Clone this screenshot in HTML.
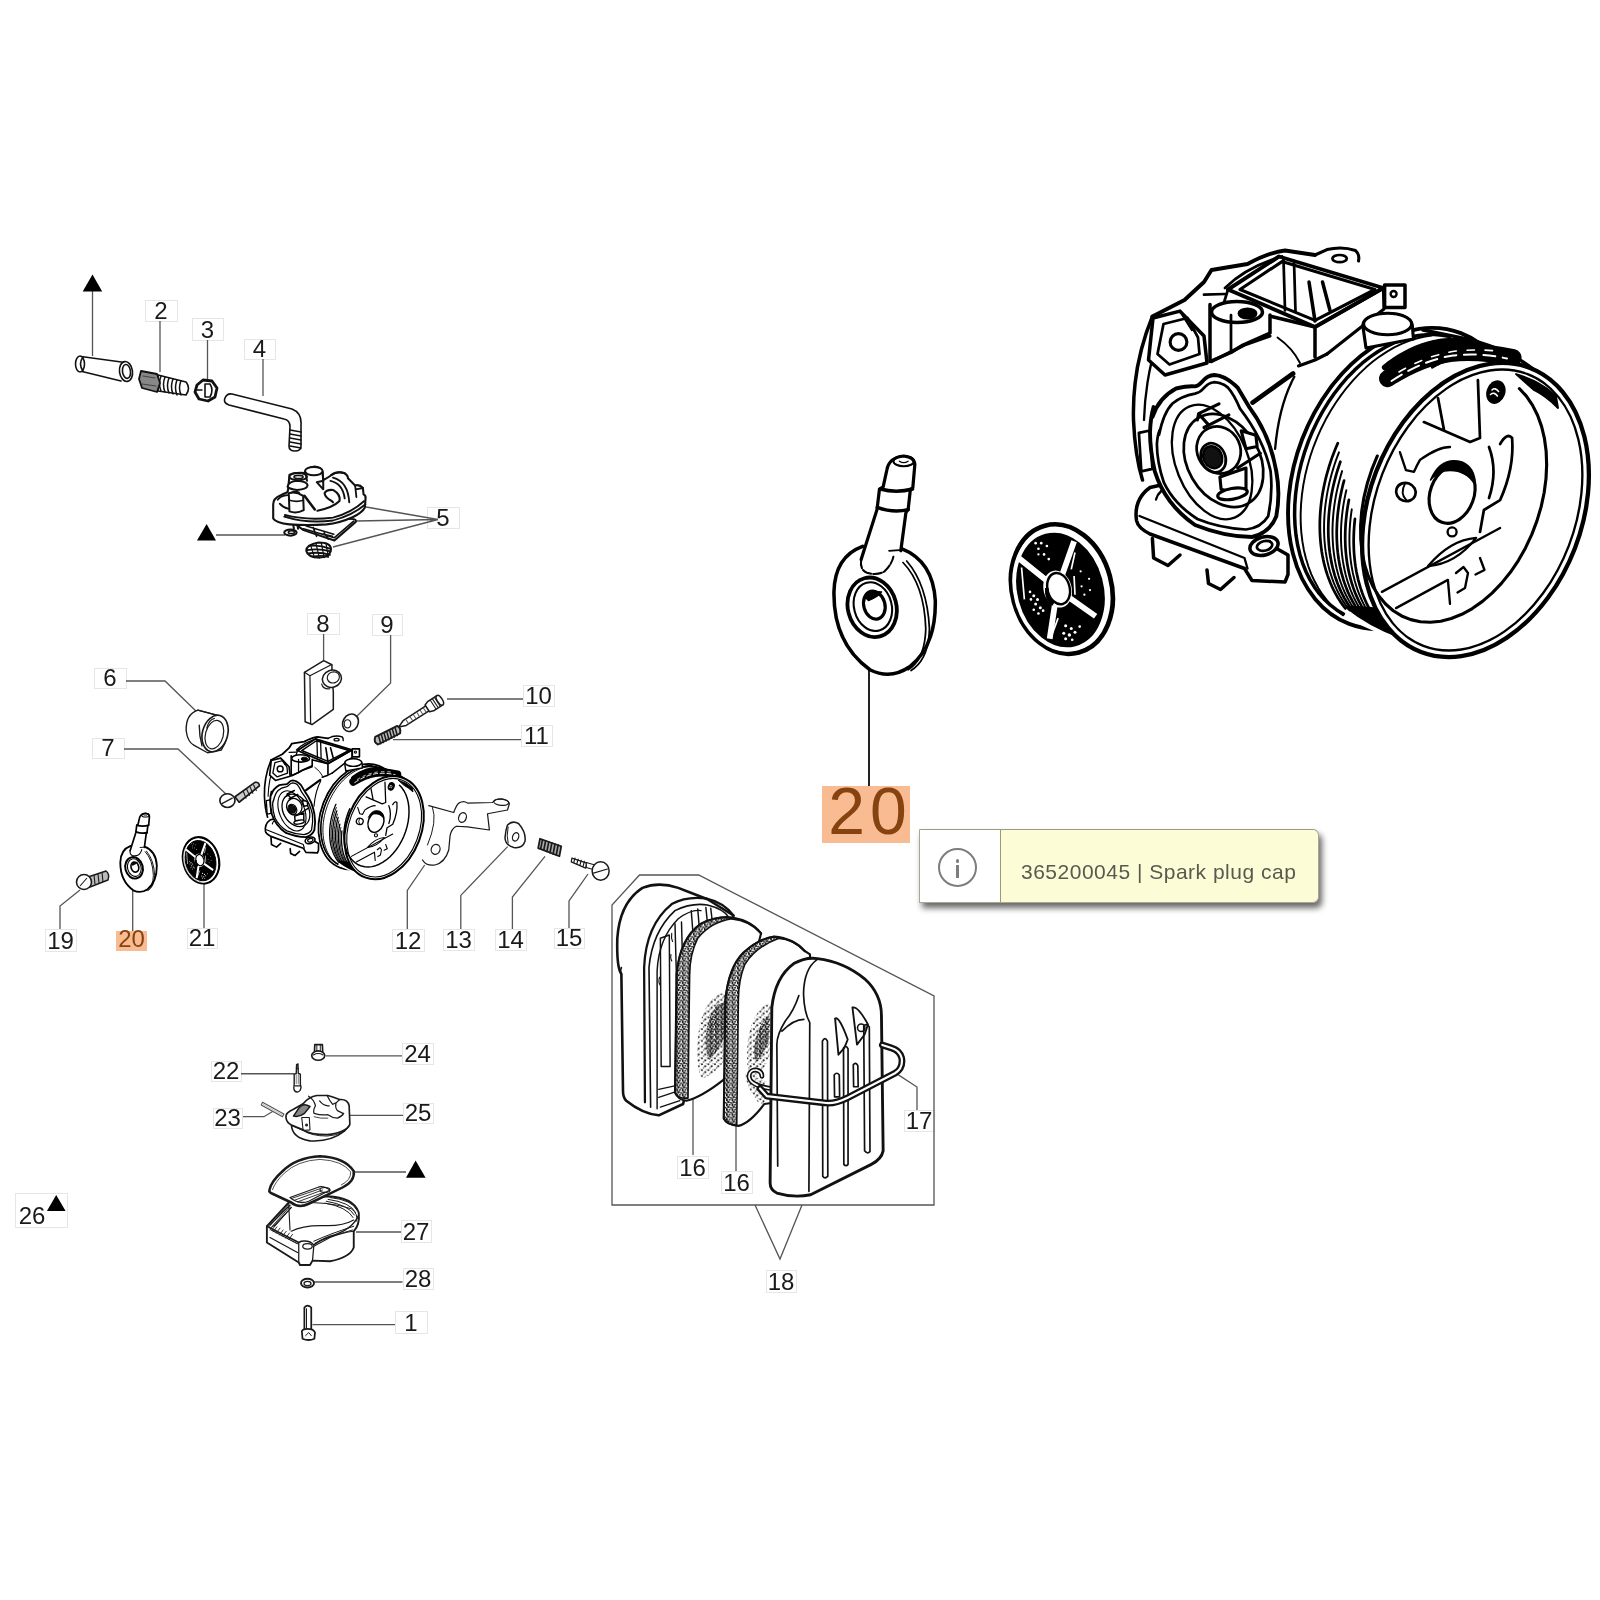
<!DOCTYPE html>
<html><head><meta charset="utf-8">
<style>
html,body{margin:0;padding:0;background:#fff;width:1600px;height:1600px;overflow:hidden}
svg{position:absolute;left:0;top:0;will-change:transform}
.lb{fill:none;stroke:#e6e6e6;stroke-width:1}
.lt{font-family:"Liberation Sans",sans-serif;font-size:24px;fill:#1a1a1a;text-anchor:middle}
.ld{fill:none;stroke:#555;stroke-width:1.3}
.k{fill:none;stroke:#111;stroke-linejoin:round;stroke-linecap:round}
.kf{fill:#fff;stroke:#111;stroke-linejoin:round;stroke-linecap:round}
#tip{will-change:transform;position:absolute;left:919px;top:829px;width:400px;height:74px;background:#fcfcd6;border:1px solid #a8a890;border-top:1.5px solid #9c9c84;border-radius:0 6px 6px 0;box-shadow:3px 5px 6px rgba(0,0,0,.6);box-sizing:border-box}
#tipl{position:absolute;left:0;top:0;width:80px;height:72px;background:#fff;border-right:1.5px solid #9a9a78}
#tipi{position:absolute;left:18px;top:18px;width:39px;height:39px;border:2.5px solid #7d7d7d;border-radius:50%;box-sizing:border-box}
#tipt{position:absolute;left:101px;top:30px;font-family:"Liberation Sans",sans-serif;font-size:21px;color:#595950;white-space:nowrap;letter-spacing:0.5px}
#big{will-change:transform;position:absolute;left:822px;top:786px;width:88px;height:57px;background:#f8bb92}
#bigt{position:absolute;left:4px;top:-13px;width:88px;text-align:center;font-family:"Liberation Sans",sans-serif;font-size:66px;color:#86430f;letter-spacing:5px}
</style></head><body>
<svg width="1600" height="1600" viewBox="0 0 1600 1600">
<rect x="116" y="931" width="31" height="20" fill="#f8bb92"/>
<rect x="145.5" y="300.5" width="32" height="21" class="lb"/>
<text x="161.0" y="319" class="lt">2</text>
<rect x="192.5" y="318.5" width="31" height="22" class="lb"/>
<text x="207.5" y="338" class="lt">3</text>
<rect x="244.5" y="339.5" width="31" height="20" class="lb"/>
<text x="259.5" y="357" class="lt">4</text>
<rect x="427.5" y="507.5" width="32" height="21" class="lb"/>
<text x="443.0" y="526" class="lt">5</text>
<rect x="94.5" y="668.5" width="32" height="20" class="lb"/>
<text x="110.0" y="686" class="lt">6</text>
<rect x="92.5" y="738.5" width="32" height="20" class="lb"/>
<text x="108.0" y="756" class="lt">7</text>
<rect x="307.5" y="613.5" width="32" height="21" class="lb"/>
<text x="323.0" y="632" class="lt">8</text>
<rect x="372.5" y="614.5" width="30" height="21" class="lb"/>
<text x="387.0" y="633" class="lt">9</text>
<rect x="523.5" y="685.5" width="31" height="21" class="lb"/>
<text x="538.5" y="704" class="lt">10</text>
<rect x="521.5" y="725.5" width="31" height="21" class="lb"/>
<text x="536.5" y="744" class="lt">11</text>
<rect x="392.5" y="929.5" width="32" height="22" class="lb"/>
<text x="408.0" y="949" class="lt">12</text>
<rect x="443.5" y="929.5" width="31" height="21" class="lb"/>
<text x="458.5" y="948" class="lt">13</text>
<rect x="495.5" y="929.5" width="31" height="21" class="lb"/>
<text x="510.5" y="948" class="lt">14</text>
<rect x="554.5" y="928.5" width="30" height="20" class="lb"/>
<text x="569.0" y="946" class="lt">15</text>
<rect x="45.5" y="929.5" width="31" height="22" class="lb"/>
<text x="60.5" y="949" class="lt">19</text>
<rect x="187.5" y="928.5" width="30" height="20" class="lb"/>
<text x="202.0" y="946" class="lt">21</text>
<rect x="677.5" y="1156.5" width="31" height="22" class="lb"/>
<text x="692.5" y="1176" class="lt">16</text>
<rect x="721.5" y="1171.5" width="31" height="22" class="lb"/>
<text x="736.5" y="1191" class="lt">16</text>
<rect x="904.5" y="1110.5" width="30" height="21" class="lb"/>
<text x="919.0" y="1129" class="lt">17</text>
<rect x="766.5" y="1270.5" width="30" height="22" class="lb"/>
<text x="781.0" y="1290" class="lt">18</text>
<rect x="402.5" y="1043.5" width="31" height="21" class="lb"/>
<text x="417.5" y="1062" class="lt">24</text>
<rect x="211.5" y="1061.5" width="30" height="20" class="lb"/>
<text x="226.0" y="1079" class="lt">22</text>
<rect x="213.5" y="1108.5" width="29" height="20" class="lb"/>
<text x="227.5" y="1126" class="lt">23</text>
<rect x="403.5" y="1103.5" width="30" height="20" class="lb"/>
<text x="418.0" y="1121" class="lt">25</text>
<rect x="401.5" y="1220.5" width="30" height="22" class="lb"/>
<text x="416.0" y="1240" class="lt">27</text>
<rect x="403.5" y="1268.5" width="30" height="21" class="lb"/>
<text x="418.0" y="1287" class="lt">28</text>
<rect x="395.5" y="1311.5" width="32" height="22" class="lb"/>
<text x="411.0" y="1331" class="lt">1</text>
<rect x="15.5" y="1193.5" width="52" height="34" class="lb"/>
<text x="32" y="1224" class="lt">26</text>
<text x="131.5" y="947" class="lt" style="fill:#86430f">20</text>
<!-- 00_leaders.svg -->
<g class="ld">
<path d="M92.5 291V356"/>
<path d="M160 321V372"/>
<path d="M207.5 340V381"/>
<path d="M263 359V396"/>
<path d="M216 535H285"/>
<path d="M438 519.5L366 507M438 519.5L356 521M438 519.5L333 547"/>
<path d="M126 681H165L199 714"/>
<path d="M124 749H178L227 795"/>
<path d="M323.6 634V660"/>
<path d="M390.6 635V683L356 717"/>
<path d="M447 699H523"/>
<path d="M393 739.6H521"/>
<path d="M60 929V906L80 890"/>
<path d="M132.7 931V890"/>
<path d="M204 928V882"/>
<path d="M407.3 929V890.5L424.7 865"/>
<path d="M460.8 929V895.4L507.6 846.6"/>
<path d="M512.4 929V897L545 856.4"/>
<path d="M569 928V901L588 874"/>
<path d="M325.8 1055.8H402"/>
<path d="M241 1073.75H294"/>
<path d="M243 1116.7H264L273.4 1111"/>
<path d="M350 1115.3H403"/>
<path d="M354.7 1172H406"/>
<path d="M356 1232H401"/>
<path d="M312.5 1282H402.5"/>
<path d="M312.5 1324.7H395"/>
<path d="M612 1205V905L639.5 875H698.7L934 996V1205Z"/>
<path d="M755 1205L780 1259L802 1205"/>
<path d="M898 1074.6L917 1087V1110"/>
<path d="M693 1099V1155"/>
<path d="M736 1124V1171"/>
</g>
<path d="M869 669.5V786" fill="none" stroke="#222" stroke-width="2"/>
<g fill="#000">
<path d="M92.5 274.6L82.7 291.5H102.2Z"/>
<path d="M206.6 524L197 540.5H216Z"/>
<path d="M415.6 1160.6L406 1177.8H425.6Z"/>
<path d="M56.2 1195L46.9 1211H65.6Z"/>
</g>
<!-- 01_top.svg -->
<g class="k" stroke-width="1.6" stroke="#222">
<!-- cylinder -->
<path d="M81 356.5L125 362.5M82 371.5L121 381" />
<ellipse cx="80" cy="364" rx="4.5" ry="8" fill="#fff"/>
<path d="M83 357Q78 364 83 371"/>
<ellipse cx="126" cy="371.5" rx="6.5" ry="10" fill="#fff" transform="rotate(-8 126 371.5)"/>
<ellipse cx="126.5" cy="371.5" rx="4" ry="7" transform="rotate(-8 126 371.5)"/>
<!-- screw 2 -->
<path d="M158 375L186 382Q191 388 186 395L158 391Z" fill="#fff"/>
<path d="M161 376Q158 384 161 391M165 377Q162 385 165 392M169 378Q166 386 169 393M173 379Q170 387 173 394M177 380Q174 388 177 395M181 381Q178 388 181 395" stroke-width="1.5"/>
<path d="M141 371L157 374L160 383L157 392L142 388L139 379Z" fill="#888" stroke-width="1.8"/>
<path d="M143 376L155 378M142 384L156 386" stroke="#444" stroke-width="1.2"/>
<!-- nut 3 -->
<path d="M197 385L203 380L212 381L217 388L215 397L208 401L199 399L195 392Z" stroke-width="2.8" fill="#fff"/>
<path d="M205 384L210 384Q214 390 210 397L205 397Z" stroke-width="1.6"/>
<path d="M197 390H202" stroke-width="1.4"/>
<!-- tube 4 -->
<path d="M232 394L292 409Q302 413 301 425L301 446Q301 451 295 451Q289 451 289 446L290 427Q290 420 284 419L229 405Q223 403 225 398Q227 393 232 394Z" fill="#fff"/>
<path d="M290 430L301 432M290 434L301 436M290 438L301 440M290 442L301 444M290 446L301 448" stroke-width="1.5"/>
</g>
<!-- 02_pump.svg -->
<g transform="translate(265 460) scale(0.06875)">
<g class="k" stroke="#1a1a1a">
<path vector-effect="non-scaling-stroke" d="M780 1200Q600 1230 600 1320Q620 1420 800 1420Q950 1410 960 1300Q960 1200 780 1200Z" fill="#fff" style="stroke-width:2"/>
<path vector-effect="non-scaling-stroke" d="M640 1250Q800 1230 940 1290M615 1310Q780 1280 955 1330M630 1360Q790 1330 945 1380M690 1405Q830 1380 920 1410" style="stroke-width:1.8"/>
<path vector-effect="non-scaling-stroke" d="M660 1230L720 1420M740 1210L790 1420M820 1210L860 1420M890 1230L920 1400" style="stroke-width:1.2"/>
<path vector-effect="non-scaling-stroke" d="M330 850L560 1020L1010 1170L1320 900Q1330 870 1290 860L900 840Z" fill="#fff" style="stroke-width:2"/>
<path vector-effect="non-scaling-stroke" d="M560 1000L1010 1130L1290 890M700 980L750 1110M860 1060L920 1150M720 1050L980 1110M600 960L1000 1080" style="stroke-width:1.6"/>
<ellipse vector-effect="non-scaling-stroke" cx="370" cy="1055" rx="90" ry="45" fill="#fff" style="stroke-width:2"/>
<ellipse vector-effect="non-scaling-stroke" cx="385" cy="1050" rx="45" ry="20" style="stroke-width:1.6"/>
<path vector-effect="non-scaling-stroke" d="M410 930L420 1000M470 920L480 1000" style="stroke-width:2"/>
</g>
</g>
<g transform="translate(268 462) scale(0.065)">
<g class="k" stroke="#1a1a1a">
<path vector-effect="non-scaling-stroke" d="M80 650Q85 560 180 520Q230 490 300 465L310 420L330 200Q400 160 560 170Q600 80 720 70Q830 80 840 160L850 280Q920 240 980 200Q1060 140 1170 170Q1230 200 1230 250L1340 360Q1410 340 1460 400L1470 500Q1510 510 1500 570L1490 700Q1450 780 1300 850Q1100 940 900 960Q600 980 330 960Q120 940 80 870Z" fill="#fff" style="stroke-width:2.1"/>
<path vector-effect="non-scaling-stroke" d="M250 840Q600 950 1000 900Q1300 820 1500 650M260 815Q600 905 1000 855Q1280 785 1480 600" style="stroke-width:1.8"/>
<path vector-effect="non-scaling-stroke" d="M150 580Q200 520 300 510M180 640Q230 700 320 720" style="stroke-width:1.8"/>
<ellipse vector-effect="non-scaling-stroke" cx="465" cy="225" rx="135" ry="55" fill="#fff" style="stroke-width:2"/>
<ellipse vector-effect="non-scaling-stroke" cx="470" cy="230" rx="70" ry="25" style="stroke-width:1.6"/>
<path vector-effect="non-scaling-stroke" d="M300 380Q320 300 450 290Q600 300 610 360Q600 420 450 430Q330 420 300 380Z" fill="#fff" style="stroke-width:2"/>
<path vector-effect="non-scaling-stroke" d="M320 480L330 760Q440 800 550 740L540 520Q430 450 320 480Z" fill="#fff" style="stroke-width:2"/>
<path vector-effect="non-scaling-stroke" d="M330 590Q440 620 545 590M360 470Q420 440 480 470" style="stroke-width:1.6"/>
<path vector-effect="non-scaling-stroke" d="M575 160L600 290M840 160L850 280" style="stroke-width:2"/>
<ellipse vector-effect="non-scaling-stroke" cx="705" cy="140" rx="135" ry="65" fill="#fff" style="stroke-width:2"/>
<path vector-effect="non-scaling-stroke" d="M750 310L850 290L850 420Z" style="stroke-width:2"/>
<path vector-effect="non-scaling-stroke" d="M560 520L720 730" style="stroke-width:2.6"/>
<path vector-effect="non-scaling-stroke" d="M760 750Q1000 700 1100 600Q1120 500 1000 430Q900 420 870 480Q880 550 980 600L1000 620" style="stroke-width:2.1"/>
<path vector-effect="non-scaling-stroke" d="M1000 240Q1230 300 1250 620M960 290Q1150 330 1180 560" style="stroke-width:1.9"/>
<path vector-effect="non-scaling-stroke" d="M1340 360L1360 540M1460 400L1350 420M970 200Q1050 130 1180 170" style="stroke-width:1.8"/>
</g>
</g>
<!-- 05_carb.svg -->
<defs>
<g id="carb" fill="none" stroke="#000" stroke-linejoin="round" stroke-linecap="round" style="stroke-width:calc(9px * var(--k,1))">
<ellipse cx="950" cy="795" rx="367" ry="519" transform="rotate(21 950 795)" fill="#fff" style="stroke-width:calc(10px * var(--k,1))"/>
<path d="M1378.1 431.4 L1394.9 439.6 L1411.0 449.0 L1426.6 459.6 L1441.5 471.5 L1455.7 484.6 L1469.1 498.7 L1481.7 514.0 L1493.6 530.3 L1504.6 547.7 L1514.7 566.0 L1523.9 585.2 L1532.2 605.3 L1539.6 626.2 L1545.9 647.9 L1551.3 670.2 L1555.7 693.2 L1559.0 716.7 L1561.4 740.8 L1562.7 765.3 L1562.9 790.1 L1562.2 815.3 L1560.4 840.6 L1557.5 866.2 L1553.7 891.8 L1548.8 917.5 L1542.9 943.1 L1536.1 968.6 L1528.3 993.9 L1519.5 1018.9 L1509.9 1043.7 L1499.3 1068.0 L1487.9 1091.9 L1475.7 1115.2 L1462.6 1137.9 L1448.8 1160.0 L1434.3 1181.4 L1419.1 1202.1 L1403.2 1221.8 L1386.8 1240.7 L1369.8 1258.7 L1352.3 1275.7 L1334.3 1291.7 L1315.9 1306.5 L1297.2 1320.3 L1278.1 1332.9 L1258.8 1344.4 L1239.3 1354.6 L1219.7 1363.5 L1200.0 1371.2 L1180.2 1377.6 L1160.4 1382.7 L1140.7 1386.5 L1121.1 1389.0 L1101.7 1390.1 L1082.5 1389.8 L1063.6 1388.2 L1045.1 1385.3 L1026.9 1381.0 L1009.1 1375.5 L991.9 1368.6 L756.9 1263.6 L740.1 1255.4 L724.0 1246.0 L708.4 1235.4 L693.5 1223.5 L679.3 1210.4 L665.9 1196.3 L653.3 1181.0 L641.4 1164.7 L630.4 1147.3 L620.3 1129.0 L611.1 1109.8 L602.8 1089.7 L595.4 1068.8 L589.1 1047.1 L583.7 1024.8 L579.3 1001.8 L576.0 978.3 L573.6 954.2 L572.3 929.7 L572.1 904.9 L572.8 879.7 L574.6 854.4 L577.5 828.8 L581.3 803.2 L586.2 777.5 L592.1 751.9 L598.9 726.4 L606.7 701.1 L615.5 676.1 L625.1 651.3 L635.7 627.0 L647.1 603.1 L659.3 579.8 L672.4 557.1 L686.2 535.0 L700.7 513.6 L715.9 492.9 L731.8 473.2 L748.2 454.3 L765.2 436.3 L782.7 419.3 L800.7 403.3 L819.1 388.5 L837.8 374.7 L856.9 362.1 L876.2 350.6 L895.7 340.4 L915.3 331.5 L935.0 323.8 L954.8 317.4 L974.6 312.3 L994.3 308.5 L1013.9 306.0 L1033.3 304.9 L1052.5 305.2 L1071.4 306.8 L1089.9 309.7 L1108.1 314.0 L1125.9 319.5 L1143.1 326.4Z" fill="#fff" stroke="none"/>
<path d="M744.5 1246.4 L722.4 1233.1 L701.6 1217.3 L682.2 1199.2 L664.2 1178.9 L647.8 1156.5 L633.1 1132.0 L620.1 1105.8 L608.9 1077.8 L599.6 1048.2 L592.2 1017.3 L586.8 985.2 L583.4 952.0 L582.0 917.9 L582.6 883.2 L585.3 847.9 L589.9 812.4 L596.5 776.8 L605.1 741.3 L615.6 706.1 L627.9 671.4 L642.0 637.3 L657.8 604.1 L675.2 572.0 L694.1 541.1 L714.4 511.6 L736.0 483.7 L758.7 457.4 L782.6 433.0 L807.3 410.7 L832.9 390.4 L859.0 372.3 L885.7 356.6 L912.8 343.3 L940.0 332.5 L967.3 324.2 L994.5 318.5 L1021.4 315.4 L1048.0 315.0 L1074.0 317.2 L1099.4 322.0" style="stroke-width:calc(9px * var(--k,1))" />
<path d="M743.5 1251.0 L724.7 1236.5 L707.1 1220.2 L690.5 1202.0 L675.3 1182.2 L661.3 1160.8 L648.7 1137.8 L637.5 1113.5 L627.8 1087.8 L619.6 1060.9 L612.9 1033.0 L607.8 1004.0 L604.3 974.3 L602.4 943.8 L602.1 912.7 L603.5 881.2 L606.4 849.3 L611.0 817.3 L617.1 785.2 L624.8 753.3 L634.0 721.5 L644.7 690.1 L656.8 659.3 L670.3 629.0 L685.2 599.5 L701.3 570.9 L718.6 543.3 L737.0 516.9 L756.4 491.7 L776.8 467.8 L798.1 445.4 L820.2 424.5 L842.9 405.3 L866.2 387.8 L890.1 372.1 L914.3 358.2 L938.7 346.3 L963.4 336.3 L988.1 328.4 L1012.8 322.5 L1037.4 318.7" style="stroke-width:calc(5px * var(--k,1))" />
<path d="M1010 300 L1144 327 Q1290 360 1379 432" style="stroke-width:calc(9px * var(--k,1))"/>
<path d="M751.4 1228.2 L744.0 1218.7 L736.9 1208.9 L730.2 1198.7 L723.7 1188.1 L717.6 1177.2 L711.7 1165.9 L706.2 1154.4 L701.1 1142.5 L696.3 1130.3 L691.8 1117.8 L687.6 1105.1 L683.9 1092.0 L680.4 1078.8 L677.4 1065.3 L674.7 1051.5 L672.3 1037.6 L670.4 1023.4 L668.8 1009.1 L667.5 994.6 L666.7 979.9 L666.2 965.1 L666.0 950.2 L666.3 935.2 L666.9 920.0 L667.9 904.8 L669.3 889.6 L671.0 874.2 L673.2 858.9 L675.6 843.5 L678.5 828.1 L681.7 812.7 L685.2 797.3 L689.1 782.0 L693.4 766.7 L698.0 751.5 L703.0 736.4 L708.2 721.4 L713.9 706.5 L719.8 691.7 L726.1 677.1" style="stroke-width:calc(7px * var(--k,1))" />
<path d="M765.5 1234.5 L758.4 1225.4 L751.6 1216.0 L745.1 1206.3 L738.9 1196.2 L732.9 1185.8 L727.3 1175.1 L721.9 1164.1 L716.9 1152.8 L712.1 1141.2 L707.7 1129.3 L703.6 1117.2 L699.8 1104.9 L696.4 1092.3 L693.2 1079.5 L690.4 1066.4 L688.0 1053.2 L685.8 1039.8 L684.0 1026.2 L682.6 1012.4 L681.4 998.5 L680.7 984.4 L680.2 970.2 L680.2 955.9 L680.4 941.5 L681.0 927.0 L681.9 912.4 L683.2 897.8 L684.8 883.1 L686.8 868.4 L689.1 853.6 L691.7 838.9 L694.7 824.1 L697.9 809.4 L701.6 794.7 L705.5 780.0 L709.8 765.4 L714.3 750.9 L719.2 736.4 L724.4 722.1 L729.9 707.8" style="stroke-width:calc(5px * var(--k,1))" />
<path d="M779.6 1240.8 L772.8 1232.1 L766.3 1223.2 L760.0 1213.9 L754.0 1204.3 L748.3 1194.4 L742.8 1184.2 L737.6 1173.8 L732.7 1163.0 L728.0 1152.1 L723.7 1140.8 L719.6 1129.4 L715.8 1117.7 L712.4 1105.7 L709.2 1093.6 L706.3 1081.3 L703.7 1068.7 L701.5 1056.0 L699.5 1043.1 L697.8 1030.1 L696.5 1016.9 L695.5 1003.5 L694.7 990.1 L694.3 976.5 L694.2 962.8 L694.5 949.0 L695.0 935.2 L695.8 921.2 L697.0 907.3 L698.5 893.2 L700.3 879.1 L702.3 865.0 L704.7 850.9 L707.4 836.8 L710.4 822.7 L713.7 808.6 L717.3 794.6 L721.2 780.6 L725.4 766.6 L729.9 752.8 L734.6 739.0" style="stroke-width:calc(7px * var(--k,1))" />
<path d="M793.7 1247.1 L787.2 1238.8 L781.0 1230.3 L775.0 1221.5 L769.2 1212.3 L763.7 1203.0 L758.4 1193.3 L753.3 1183.4 L748.5 1173.3 L744.0 1162.9 L739.7 1152.3 L735.7 1141.4 L732.0 1130.4 L728.5 1119.1 L725.3 1107.6 L722.3 1096.0 L719.7 1084.2 L717.3 1072.1 L715.2 1060.0 L713.4 1047.6 L711.8 1035.2 L710.5 1022.6 L709.6 1009.8 L708.9 997.0 L708.5 984.0 L708.3 971.0 L708.5 957.8 L709.0 944.6 L709.7 931.4 L710.7 918.0 L712.0 904.6 L713.6 891.2 L715.5 877.8 L717.6 864.3 L720.0 850.8 L722.7 837.3 L725.7 823.9 L729.0 810.5 L732.5 797.1 L736.3 783.7 L740.3 770.4" style="stroke-width:calc(5px * var(--k,1))" />
<path d="M807.8 1253.4 L801.6 1245.5 L795.7 1237.4 L789.9 1229.0 L784.4 1220.4 L779.1 1211.5 L774.0 1202.4 L769.1 1193.0 L764.4 1183.5 L760.0 1173.7 L755.8 1163.7 L751.9 1153.4 L748.2 1143.0 L744.7 1132.4 L741.5 1121.6 L738.5 1110.6 L735.8 1099.5 L733.3 1088.2 L731.1 1076.7 L729.1 1065.1 L727.4 1053.4 L725.9 1041.5 L724.7 1029.5 L723.7 1017.4 L723.1 1005.1 L722.6 992.8 L722.4 980.4 L722.5 967.9 L722.9 955.3 L723.5 942.7 L724.3 930.0 L725.4 917.3 L726.8 904.5 L728.5 891.7 L730.3 878.9 L732.5 866.1 L734.9 853.3 L737.5 840.4 L740.4 827.6 L743.5 814.8 L746.9 802.1" style="stroke-width:calc(7px * var(--k,1))" />
<path d="M821.9 1259.7 L816.0 1252.2 L810.4 1244.5 L804.9 1236.6 L799.6 1228.4 L794.5 1220.1 L789.6 1211.5 L784.9 1202.6 L780.4 1193.6 L776.1 1184.4 L772.0 1175.0 L768.1 1165.4 L764.5 1155.6 L761.0 1145.6 L757.8 1135.5 L754.8 1125.2 L752.0 1114.7 L749.5 1104.1 L747.2 1093.3 L745.1 1082.4 L743.2 1071.4 L741.6 1060.2 L740.1 1049.0 L739.0 1037.6 L738.0 1026.1 L737.3 1014.5 L736.8 1002.8 L736.6 991.1 L736.6 979.2 L736.8 967.3 L737.2 955.3 L737.9 943.3 L738.8 931.2 L740.0 919.1 L741.4 907.0 L743.0 894.8 L744.8 882.7 L746.9 870.5 L749.2 858.3 L751.7 846.1 L754.5 833.9" style="stroke-width:calc(5px * var(--k,1))" />
<path d="M836.0 1266.0 L830.4 1258.9 L825.0 1251.7 L819.8 1244.2 L814.8 1236.5 L809.9 1228.6 L805.2 1220.5 L800.7 1212.2 L796.3 1203.7 L792.2 1195.1 L788.2 1186.3 L784.4 1177.3 L780.9 1168.1 L777.5 1158.8 L774.3 1149.3 L771.3 1139.6 L768.5 1129.8 L765.9 1119.9 L763.5 1109.8 L761.3 1099.6 L759.3 1089.3 L757.5 1078.9 L755.9 1068.3 L754.5 1057.7 L753.4 1046.9 L752.4 1036.0 L751.6 1025.1 L751.1 1014.0 L750.8 1002.9 L750.6 991.8 L750.7 980.5 L751.0 969.2 L751.5 957.8 L752.2 946.4 L753.2 935.0 L754.3 923.5 L755.6 912.0 L757.2 900.5 L758.9 889.0 L760.9 877.4 L763.1 865.9" style="stroke-width:calc(7px * var(--k,1))" />
<path d="M850.1 1272.3 L844.8 1265.6 L839.7 1258.8 L834.8 1251.7 L830.0 1244.5 L825.3 1237.1 L820.8 1229.5 L816.5 1221.8 L812.3 1213.8 L808.3 1205.7 L804.5 1197.5 L800.8 1189.1 L797.3 1180.5 L794.0 1171.8 L790.8 1163.0 L787.9 1154.0 L785.1 1144.8 L782.4 1135.6 L780.0 1126.2 L777.7 1116.7 L775.6 1107.1 L773.7 1097.3 L772.0 1087.5 L770.4 1077.6 L769.1 1067.5 L767.9 1057.4 L766.9 1047.2 L766.1 1036.9 L765.5 1026.5 L765.0 1016.0 L764.8 1005.5 L764.7 994.9 L764.9 984.3 L765.2 973.6 L765.7 962.9 L766.4 952.1 L767.3 941.3 L768.3 930.5 L769.6 919.6 L771.0 908.7 L772.6 897.8" style="stroke-width:calc(5px * var(--k,1))" />
<path d="M864.2 1278.6 L859.2 1272.3 L854.4 1265.9 L849.7 1259.3 L845.2 1252.5 L840.8 1245.6 L836.5 1238.5 L832.4 1231.3 L828.4 1223.9 L824.5 1216.3 L820.8 1208.7 L817.3 1200.8 L813.9 1192.9 L810.6 1184.8 L807.5 1176.6 L804.6 1168.2 L801.8 1159.7 L799.2 1151.1 L796.7 1142.4 L794.3 1133.6 L792.2 1124.7 L790.2 1115.7 L788.3 1106.5 L786.7 1097.3 L785.1 1088.0 L783.8 1078.6 L782.6 1069.1 L781.6 1059.5 L780.7 1049.8 L780.0 1040.1 L779.5 1030.3 L779.1 1020.5 L778.9 1010.6 L778.8 1000.6 L779.0 990.6 L779.3 980.5 L779.7 970.4 L780.4 960.3 L781.1 950.1 L782.1 940.0 L783.2 929.7" style="stroke-width:calc(7px * var(--k,1))" />
<path d="M760 1225 Q840 1290 960 1330 Q900 1270 840 1230 Z" fill="#000" style="stroke-width:calc(10px * var(--k,1))"/>
<path d="M883.4 424.8 L893.4 417.0 L903.6 409.5 L913.8 402.4 L924.2 395.6 L934.6 389.1 L945.0 383.0 L955.6 377.3 L966.2 371.9 L976.8 366.9 L987.4 362.3 L998.1 358.0 L1008.8 354.1 L1019.6 350.6 L1030.3 347.5 L1041.0 344.7 L1051.7 342.4 L1062.4 340.4 L1073.0 338.8 L1083.6 337.6 L1094.1 336.8 L1104.6 336.4 L1115.0 336.4 L1125.4 336.8 L1135.6 337.6 L1145.8 338.8 L1155.8 340.3 L1165.8 342.3 L1175.6 344.7 L1185.3 347.4 L1194.9 350.5 L1204.4 354.0 L1213.6 357.9 L1222.8 362.2 L1231.8 366.8 L1240.6 371.8 L1249.2 377.2 L1257.6 382.9 L1265.9 389.0 L1273.9 395.4 L1281.8 402.2" style="stroke-width:calc(16px * var(--k,1))" />
<path d="M914.6 423.6 L924.4 416.5 L934.4 409.6 L944.4 403.1 L954.5 396.9 L964.6 391.0 L974.9 385.4 L985.1 380.2 L995.4 375.4 L1005.8 370.9 L1016.1 366.7 L1026.5 362.9 L1036.9 359.4 L1047.3 356.4 L1057.6 353.6 L1068.0 351.3 L1078.4 349.3 L1088.7 347.6 L1099.0 346.4 L1109.2 345.5 L1119.4 344.9 L1129.5 344.8 L1139.6 345.0 L1149.5 345.6 L1159.4 346.5 L1169.2 347.8 L1178.9 349.5 L1188.5 351.6 L1198.0 354.0 L1207.4 356.8 L1216.6 360.0 L1225.7 363.5 L1234.7 367.3 L1243.5 371.5 L1252.2 376.1 L1260.7 381.0 L1269.0 386.3 L1277.2 391.9 L1285.2 397.8 L1293.0 404.0 L1300.6 410.6" style="stroke-width:calc(16px * var(--k,1))" />
<path d="M945.9 423.0 L955.6 416.4 L965.3 410.2 L975.1 404.2 L984.9 398.6 L994.8 393.3 L1004.7 388.2 L1014.7 383.6 L1024.7 379.2 L1034.7 375.2 L1044.8 371.5 L1054.9 368.1 L1064.9 365.1 L1075.0 362.4 L1085.0 360.0 L1095.0 358.0 L1105.0 356.4 L1115.0 355.1 L1124.9 354.1 L1134.8 353.5 L1144.6 353.2 L1154.4 353.3 L1164.1 353.7 L1173.7 354.4 L1183.2 355.6 L1192.7 357.0 L1202.0 358.8 L1211.3 361.0 L1220.4 363.4 L1229.4 366.3 L1238.3 369.4 L1247.1 372.9 L1255.8 376.8 L1264.3 380.9 L1272.6 385.4 L1280.8 390.2 L1288.9 395.4 L1296.8 400.8 L1304.5 406.6 L1312.0 412.6 L1319.4 419.0" style="stroke-width:calc(7px * var(--k,1))" />
<path d="M977.4 422.8 L986.8 416.9 L996.3 411.2 L1005.8 405.8 L1015.4 400.7 L1025.0 395.9 L1034.7 391.4 L1044.3 387.3 L1054.0 383.4 L1063.8 379.8 L1073.5 376.6 L1083.2 373.6 L1092.9 371.0 L1102.7 368.7 L1112.4 366.7 L1122.0 365.1 L1131.7 363.7 L1141.3 362.7 L1150.8 362.0 L1160.4 361.6 L1169.8 361.6 L1179.2 361.9 L1188.6 362.5 L1197.8 363.4 L1207.0 364.7 L1216.1 366.3 L1225.1 368.1 L1234.0 370.4 L1242.8 372.9 L1251.5 375.8 L1260.0 378.9 L1268.5 382.4 L1276.8 386.2 L1285.0 390.3 L1293.1 394.7 L1301.0 399.4 L1308.7 404.5 L1316.3 409.8 L1323.8 415.4 L1331.1 421.3 L1338.2 427.4" style="stroke-width:calc(7px * var(--k,1))" stroke-dasharray="50 12"/>
<path d="M1009.0 423.2 L1018.1 417.8 L1027.4 412.7 L1036.6 407.9 L1045.9 403.3 L1055.3 399.0 L1064.6 395.0 L1074.0 391.3 L1083.4 387.9 L1092.8 384.8 L1102.2 382.0 L1111.6 379.4 L1121.0 377.2 L1130.3 375.3 L1139.7 373.6 L1149.0 372.3 L1158.3 371.3 L1167.5 370.5 L1176.7 370.1 L1185.9 370.0 L1195.0 370.2 L1204.0 370.6 L1213.0 371.4 L1221.9 372.5 L1230.7 373.9 L1239.5 375.6 L1248.1 377.6 L1256.7 379.8 L1265.1 382.4 L1273.5 385.3 L1281.7 388.5 L1289.8 391.9 L1297.8 395.7 L1305.7 399.7 L1313.5 404.1 L1321.1 408.7 L1328.6 413.6 L1335.9 418.7 L1343.1 424.2 L1350.1 429.9 L1357.0 435.8" style="stroke-width:calc(7px * var(--k,1))" stroke-dasharray="50 12"/>
<path d="M1040.7 424.1 L1049.6 419.3 L1058.5 414.7 L1067.5 410.4 L1076.5 406.4 L1085.6 402.6 L1094.6 399.1 L1103.7 395.8 L1112.7 392.8 L1121.8 390.1 L1130.9 387.7 L1139.9 385.6 L1149.0 383.7 L1158.0 382.1 L1167.0 380.8 L1176.0 379.8 L1184.9 379.0 L1193.8 378.6 L1202.6 378.4 L1211.4 378.5 L1220.2 378.9 L1228.8 379.5 L1237.4 380.5 L1246.0 381.7 L1254.4 383.2 L1262.8 385.0 L1271.1 387.0 L1279.3 389.4 L1287.5 392.0 L1295.5 394.9 L1303.4 398.1 L1311.2 401.5 L1318.9 405.2 L1326.4 409.2 L1333.9 413.4 L1341.2 417.9 L1348.4 422.7 L1355.5 427.7 L1362.4 432.9 L1369.2 438.5 L1375.8 444.2" style="stroke-width:calc(7px * var(--k,1))" stroke-dasharray="50 12"/>
<path d="M892 462 Q1000 392 1100 378 Q1200 368 1310 392" style="stroke-width:calc(44px * var(--k,1))"/>
<path d="M905 470 Q1010 400 1110 385 Q1200 375 1290 395" stroke="#fff" stroke-dasharray="40 25" style="stroke-width:calc(5px * var(--k,1))"/>
<path d="M930 440 Q1020 385 1120 370 Q1200 362 1270 372" stroke="#fff" stroke-dasharray="25 35" style="stroke-width:calc(4px * var(--k,1))"/>
<ellipse cx="1185" cy="900" rx="355" ry="507" transform="rotate(21 1185 900)" fill="#fff" style="stroke-width:calc(11px * var(--k,1))"/>
<ellipse cx="1185" cy="900" rx="333" ry="485" transform="rotate(21 1185 900)" style="stroke-width:calc(6px * var(--k,1))"/>
<path d="M1331.1 495.1 L1354.6 520.6 L1374.9 550.4 L1391.9 584.1 L1405.2 621.3 L1414.8 661.6 L1420.5 704.4 L1422.2 749.2 L1420.0 795.4 L1413.8 842.4 L1403.7 889.6 L1389.8 936.4 L1372.4 982.2 L1351.6 1026.4 L1327.8 1068.4 L1301.2 1107.7 L1272.1 1143.8 L1241.0 1176.2 L1208.2 1204.6 L1174.2 1228.4 L1139.4 1247.6 L1104.2 1261.7 L1069.2 1270.6 L1034.7 1274.2 L1001.2 1272.5 L969.1 1265.4 L938.8 1253.1 L910.8 1235.7 L885.3 1213.5 L862.8 1186.7 L843.5 1155.7 L827.6 1120.8 L815.4 1082.6 L807.0 1041.4 L802.5 998.0 L802.0 952.7 L805.5 906.2 L812.9 859.1 L824.2 811.9 L839.2 765.4 L857.6 720.0" style="stroke-width:calc(8px * var(--k,1))" />
<path d="M1320 447 Q1400 470 1453 520 L1460 560 Q1420 520 1380 500 Z" fill="#000" style="stroke-width:calc(5px * var(--k,1))"/>
<ellipse cx="1107" cy="847" rx="73" ry="100" transform="rotate(20 1107 847)" fill="#fff" style="stroke-width:calc(8px * var(--k,1))"/>
<path d="M1035 800 Q1070 720 1140 740 Q1185 760 1183 815 Q1150 760 1080 770 Q1050 780 1035 800Z" fill="#000" style="stroke-width:calc(4px * var(--k,1))"/>
<ellipse cx="953" cy="840" rx="33" ry="30" transform="rotate(20 953 840)" style="stroke-width:calc(7px * var(--k,1))"/>
<path d="M950 812 Q932 845 955 868" style="stroke-width:calc(5px * var(--k,1))"/>
<circle cx="1107" cy="973" r="15" style="stroke-width:calc(6px * var(--k,1))"/>
<path d="M1267 680 Q1290 640 1307 660 Q1315 760 1267 867 L1213 900 L1200 973 M1230 690 Q1260 770 1230 860" style="stroke-width:calc(7px * var(--k,1))"/>
<path d="M1027 1087 Q1100 1000 1187 993 Q1120 1080 1027 1087Z" style="stroke-width:calc(6px * var(--k,1))"/>
<path d="M873 1173 L1267 960 M920 1227 L1093 1133 L1100 1213" style="stroke-width:calc(6px * var(--k,1))"/>
<path d="M1120 1110 L1145 1090 L1160 1110 L1150 1160 L1125 1175 M1200 1060 L1215 1100 L1185 1115" style="stroke-width:calc(6px * var(--k,1))"/>
<path d="M933 707 L953 767 L980 773 Q990 750 1000 733 Q1060 690 1100 690" style="stroke-width:calc(6px * var(--k,1))"/>
<path d="M1013 607 L1167 673 L1200 660 L1193 467 M1060 527 L1080 633" style="stroke-width:calc(7px * var(--k,1))"/>
<ellipse cx="1253" cy="507" rx="28" ry="37" transform="rotate(20 1253 507)" fill="#000" style="stroke-width:calc(5px * var(--k,1))"/>
<path d="M1240 500 Q1250 490 1262 505 M1235 515 Q1248 505 1258 520" stroke="#fff" style="stroke-width:calc(4px * var(--k,1))"/>
<!-- bottom flange -->
<path d="M55 935Q45 865 100 825L145 815L560 1050L560 1115L550 1140L440 1135L415 1095L100 980Q60 960 55 935Z" fill="#fff"/>
<path d="M65 920L415 1060L425 1095M120 865Q130 830 165 825" style="stroke-width:calc(6px * var(--k,1))"/>
<path d="M108 995L112 1060L160 1085L200 1050M290 1100L295 1145L335 1165L380 1125" fill="#fff"/>
<ellipse cx="480" cy="1020" rx="48" ry="30" transform="rotate(-15 480 1020)" fill="#fff"/>
<ellipse cx="482" cy="1020" rx="26" ry="16" transform="rotate(-15 480 1020)" style="stroke-width:calc(7px * var(--k,1))"/>
<!-- left body big arcs -->
<path d="M108 255Q40 420 45 600Q50 720 75 800"/>
<path d="M130 320Q85 450 80 600" style="stroke-width:calc(6px * var(--k,1))"/>
<path d="M63 643L100 635L108 763L71 771Z" fill="#fff" style="stroke-width:calc(7px * var(--k,1))"/>
<!-- top left flange edge -->
<path d="M108 255L215 200L280 140L305 100L395 85L425 80Q500 40 550 35L650 50" style="stroke-width:calc(10px * var(--k,1))"/>
<path d="M280 182L350 180M350 160Q420 90 540 55" style="stroke-width:calc(7px * var(--k,1))"/>
<!-- C bracket -->
<path d="M110 260L200 237L280 320L290 410L150 450L95 400Z" fill="#fff" style="stroke-width:calc(9px * var(--k,1))"/>
<path d="M145 280L225 260L260 325L265 380L165 415L125 380Z" style="stroke-width:calc(7px * var(--k,1))"/>
<circle cx="195" cy="340" r="28" style="stroke-width:calc(8px * var(--k,1))"/>
<path d="M200 237L240 300" style="stroke-width:calc(6px * var(--k,1))"/>
<!-- float bowl -->
<path d="M360 165L530 55L878 160L650 290Z" fill="#fff" style="stroke-width:calc(10px * var(--k,1))"/>
<path d="M400 165L540 72L850 165L650 268Z" style="stroke-width:calc(8px * var(--k,1))"/>
<path d="M545 65L550 235M580 70L585 240" style="stroke-width:calc(7px * var(--k,1))"/>
<path d="M630 140L650 270M675 140L700 235" style="stroke-width:calc(9px * var(--k,1))"/>
<path d="M650 290L650 390M505 255L650 290L878 160" style="stroke-width:calc(9px * var(--k,1))"/>
<path d="M878 160L880 230L690 380" style="stroke-width:calc(8px * var(--k,1))"/>
<path d="M360 165L340 230" style="stroke-width:calc(7px * var(--k,1))"/>
<!-- ear with hole -->
<path d="M650 50L690 32Q740 20 785 35Q800 50 795 70" style="stroke-width:calc(8px * var(--k,1))"/>
<ellipse cx="732" cy="62" rx="24" ry="12" style="stroke-width:calc(7px * var(--k,1))"/>
<!-- posts -->
<path d="M882 150L950 150L950 225L882 225Z" fill="#fff" style="stroke-width:calc(9px * var(--k,1))"/>
<circle cx="912" cy="180" r="10" style="stroke-width:calc(6px * var(--k,1))"/>
<path d="M810 290Q805 250 892 245Q975 250 975 290L978 330L820 360Z" fill="#fff" style="stroke-width:calc(8px * var(--k,1))"/>
<ellipse cx="892" cy="280" rx="80" ry="36" fill="#fff" style="stroke-width:calc(8px * var(--k,1))"/>
<!-- center cylinder post -->
<path d="M300 215L300 405L370 375L410 350L500 310L500 250" fill="#fff" style="stroke-width:calc(9px * var(--k,1))"/>
<ellipse cx="390" cy="240" rx="85" ry="35" fill="#fff" style="stroke-width:calc(9px * var(--k,1))"/>
<ellipse cx="425" cy="245" rx="30" ry="17" fill="#000" style="stroke-width:calc(5px * var(--k,1))"/>
<path d="M370 250L370 375" style="stroke-width:calc(7px * var(--k,1))"/>
<!-- body edge under float bowl -->
<path d="M305 405L375 370L415 350L500 320M595 420L650 400L690 380" style="stroke-width:calc(8px * var(--k,1))"/>
<path d="M525 325Q575 360 600 410" style="stroke-width:calc(5px * var(--k,1))"/>
<path d="M442 542L577 445" style="stroke-width:calc(12px * var(--k,1))"/>
<path d="M581 456Q530 550 517 696" style="stroke-width:calc(6px * var(--k,1))"/>
<!-- heart face plate -->
<path d="M108 590Q130 525 187 495Q230 485 250 488Q262 486 272 474Q292 450 315 450Q352 452 392 492L432 559Q500 650 521 771Q535 846 521 921Q500 975 440 990Q350 990 250 950Q150 880 116 771Q100 700 100 640Q102 590 112 557Z" fill="#fff" style="stroke-width:calc(10px * var(--k,1))"/>
<path d="M130 650Q145 575 175 545Q205 520 250 512Q268 508 278 495Q295 475 315 474Q340 475 360 492Q380 515 400 562Q480 666 502 771Q510 846 494 921Q470 960 420 965Q330 960 258 930Q180 880 146 808Q123 740 123 680Q125 650 132 634Z" style="stroke-width:calc(7px * var(--k,1))"/>
<ellipse cx="307" cy="740" rx="120" ry="200" transform="rotate(-22 307 740)" style="stroke-width:calc(6px * var(--k,1))"/>
<ellipse cx="345" cy="735" rx="120" ry="165" transform="rotate(-30 345 735)" style="stroke-width:calc(7px * var(--k,1))"/>
<ellipse cx="329" cy="700" rx="72" ry="80" transform="rotate(-25 329 700)" fill="#fff" style="stroke-width:calc(7px * var(--k,1))"/>
<ellipse cx="311" cy="726" rx="40" ry="50" transform="rotate(-25 311 726)" style="stroke-width:calc(7px * var(--k,1))"/>
<ellipse cx="309" cy="724" rx="31" ry="38" transform="rotate(-25 309 724)" fill="#111" style="stroke-width:calc(6px * var(--k,1))"/>
<path d="M258 600L262 579L330 546M280 625L296 617L363 583M262 579L296 617" style="stroke-width:calc(8px * var(--k,1))"/>
<path d="M404 636L453 651L457 688L420 696Z" fill="#fff" style="stroke-width:calc(8px * var(--k,1))"/>
<path d="M392 760L468 711" style="stroke-width:calc(8px * var(--k,1))"/>
<path d="M333 790L420 760L420 827L378 842L337 831Z" fill="#fff" style="stroke-width:calc(8px * var(--k,1))"/>
<ellipse cx="375" cy="846" rx="50" ry="18" transform="rotate(-10 375 846)" fill="#fff" style="stroke-width:calc(8px * var(--k,1))"/>
<!-- flange left inner -->

</g>
</defs>
<use href="#carb" transform="translate(1120 240) scale(0.3)" style="--k:1.3"/>
<use href="#carb" transform="translate(259.7 733.2) scale(0.105)" style="--k:1.75"/><!-- 06_cap_filter.svg -->
<defs>
<g id="cap" fill="none" stroke="#000" stroke-linejoin="round" stroke-linecap="round" style="stroke-width:calc(20px * var(--k,1))">
<path d="M290 690Q100 760 95 1000Q90 1350 340 1530Q480 1600 610 1510Q790 1370 785 1060Q770 790 555 705" fill="#fff" style="stroke-width:calc(24px * var(--k,1))"/>
<path d="M565 800Q710 950 720 1250Q715 1460 600 1530M590 790Q730 950 745 1250Q740 1460 620 1535" style="stroke-width:calc(12px * var(--k,1))"/>
<ellipse cx="355" cy="1105" rx="165" ry="205" transform="rotate(-15 355 1105)" style="stroke-width:calc(26px * var(--k,1))"/>
<ellipse cx="360" cy="1100" rx="128" ry="168" transform="rotate(-15 360 1100)" style="stroke-width:calc(14px * var(--k,1))"/>
<ellipse cx="370" cy="1090" rx="72" ry="97" transform="rotate(-15 370 1090)" fill="#fff" style="stroke-width:calc(22px * var(--k,1))"/>
<path d="M310 1040Q340 990 420 1000Q400 1030 330 1060Z" fill="#000" style="stroke-width:calc(8px * var(--k,1))"/>
<path d="M280 780L388 440L405 300L430 285L455 170Q470 85 570 75Q650 85 645 140L632 290L615 305L600 440L585 460L550 720" fill="#fff" style="stroke-width:calc(22px * var(--k,1))"/>
<path d="M280 780Q270 850 320 870Q390 890 440 860Q490 810 500 760" style="stroke-width:calc(14px * var(--k,1))" stroke-dasharray="60 14"/>
<path d="M390 425Q500 465 600 440M410 300Q520 330 630 300" style="stroke-width:calc(24px * var(--k,1))"/>
<ellipse cx="570" cy="110" rx="70" ry="35" style="stroke-width:calc(14px * var(--k,1))"/>
<path d="M540 110Q570 130 600 110" style="stroke-width:calc(8px * var(--k,1))"/>
<path d="M470 720L540 715" style="stroke-width:calc(12px * var(--k,1))"/>
</g>
<g id="filt">
<ellipse cx="660" cy="790" rx="530" ry="700" transform="rotate(-15 660 790)" fill="#fff" stroke="#000" style="stroke-width:calc(50px * var(--k,1))"/>
<ellipse cx="645" cy="800" rx="450" ry="610" transform="rotate(-15 645 800)" fill="#000" stroke="#000" style="stroke-width:calc(20px * var(--k,1))"/>
<ellipse cx="645" cy="800" rx="490" ry="655" transform="rotate(-15 645 800)" fill="none" stroke="#fff" stroke-width="22"/>
<g stroke="#fff" stroke-width="62" stroke-linecap="butt">
<path d="M610 790L200 460M610 790L790 280M610 790L1020 1080M610 790L530 1320"/>
</g>
<ellipse cx="615" cy="790" rx="150" ry="200" transform="rotate(-15 615 790)" fill="#fff"/>
<ellipse cx="625" cy="785" rx="118" ry="170" transform="rotate(-15 625 785)" fill="#fff" stroke="#000" style="stroke-width:calc(26px * var(--k,1))"/>
<path d="M500 780Q490 900 570 950" stroke="#000" style="stroke-width:calc(40px * var(--k,1))" fill="none"/>
<g fill="#fff">
<circle cx="380" cy="300" r="14"/><circle cx="440" cy="300" r="14"/><circle cx="500" cy="330" r="14"/><circle cx="410" cy="360" r="14"/><circle cx="470" cy="420" r="14"/><circle cx="520" cy="470" r="14"/><circle cx="410" cy="420" r="12"/>
<circle cx="320" cy="820" r="14"/><circle cx="360" cy="860" r="16"/><circle cx="400" cy="900" r="16"/><circle cx="330" cy="900" r="14"/><circle cx="380" cy="950" r="16"/><circle cx="430" cy="990" r="16"/><circle cx="360" cy="1010" r="14"/><circle cx="410" cy="1050" r="14"/><circle cx="460" cy="1020" r="14"/>
<circle cx="700" cy="1180" r="16"/><circle cx="760" cy="1210" r="16"/><circle cx="680" cy="1260" r="16"/><circle cx="740" cy="1280" r="18"/><circle cx="800" cy="1250" r="16"/><circle cx="700" cy="1320" r="16"/><circle cx="770" cy="1330" r="14"/><circle cx="850" cy="1190" r="14"/>
<circle cx="860" cy="600" r="12"/><circle cx="950" cy="680" r="12"/><circle cx="870" cy="760" r="12"/><circle cx="960" cy="800" r="12"/><circle cx="900" cy="850" r="12"/>
</g>
<path d="M800 400L760 580M790 650L800 850M620 1100L560 1260M230 560L260 900" stroke="#fff" stroke-width="18"/>
</g>
</defs>
<use href="#cap" transform="translate(820 445) scale(0.14689)"/>
<use href="#filt" transform="translate(1000 515) scale(0.09375)"/>
<!-- 07_small.svg -->
<use href="#cap" transform="translate(115.3 809.4) scale(0.05288)" style="--k:1.45"/>
<use href="#filt" transform="translate(178.9 833.8) scale(0.03356)" style="--k:1.3"/>
<!-- parts 6,7,8,9,11 -->
<g transform="translate(180 640) scale(0.1375)" fill="none" stroke="#1a1a1a" stroke-width="10" stroke-linejoin="round" stroke-linecap="round">
<path d="M130 510Q40 540 45 660Q55 740 100 765L200 820L300 800Q360 720 330 600Q300 540 260 545Z" fill="#fff"/>
<path d="M130 510L260 545M140 620Q140 700 160 770"/>
<ellipse cx="255" cy="680" rx="92" ry="135" transform="rotate(15 255 680)" fill="#fff" stroke-width="12"/>
<ellipse cx="250" cy="688" rx="65" ry="105" transform="rotate(15 250 688)" stroke-width="9"/>
<path d="M195 640Q210 580 250 570" stroke-width="8"/>
<!-- 8 -->
<path d="M905 235L1045 150L1105 180L1105 250L1115 380L1115 505L960 615L910 595Z" fill="#fff" stroke-width="11"/>
<path d="M905 235L945 260L950 605M945 260L1100 180" stroke-width="9"/>
<ellipse cx="1105" cy="282" rx="70" ry="62" transform="rotate(-20 1105 282)" fill="#fff" stroke-width="11"/>
<ellipse cx="1115" cy="272" rx="45" ry="40" transform="rotate(-20 1115 272)" stroke-width="9"/>
<path d="M1030 320Q1040 360 1090 355" stroke-width="8"/>
<!-- 9 -->
<ellipse cx="1240" cy="602" rx="55" ry="66" transform="rotate(30 1240 602)" fill="#fff" stroke-width="12"/>
<ellipse cx="1218" cy="610" rx="24" ry="30" stroke-width="9"/>
<!-- 7 screw -->
<path d="M400 1140L545 1035Q575 1030 578 1060L430 1180Z" fill="#ccc" stroke-width="12"/>
<path d="M460 1100L480 1150M485 1085L505 1130M510 1070L530 1115M535 1055L555 1095" stroke-width="8"/>
<ellipse cx="345" cy="1168" rx="55" ry="50" fill="#fff" stroke-width="12"/>
<path d="M305 1190L380 1150" stroke-width="9"/>
<!-- 11 spring -->
<path d="M1420 705L1580 625Q1610 640 1600 680L1440 760Q1405 745 1420 705Z" fill="#bbb" stroke-width="14"/>
<path d="M1445 700L1460 755M1465 690L1480 745M1485 680L1500 735M1505 670L1520 725M1525 660L1540 715M1545 650L1560 705M1565 640L1580 695" stroke-width="11"/>
</g>
<!-- 10 needle -->
<g transform="translate(398.75 726.9) rotate(-33)" fill="#fff" stroke="#1a1a1a" stroke-width="1.5" stroke-linejoin="round">
<path d="M0 0L7 -2.8L36 -3L36 3L7 2.8Z"/>
<path d="M10 -2.8L10 2.8M15 -2.8V2.8M19 -2.8V2.8M23 -2.8V2.8M27 -2.8V2.8M31 -2.8V2.8" stroke-width="1" stroke="#555"/>
<path d="M34 -4L38 -5.5H49V5.5H38L34 4Z"/>
<path d="M41 -5.5V5.5M43.5 -5.5V5.5M46 -5.5V5.5" stroke-width="1.1"/>
<ellipse cx="49" cy="0" rx="2.5" ry="5.5"/>
</g>
<!-- 12 13 14 15 -->
<g transform="translate(420 780) scale(0.125)" fill="none" stroke="#1a1a1a" stroke-width="10" stroke-linejoin="round" stroke-linecap="round">
<path d="M70 205L270 260Q290 200 310 185Q350 160 380 185L580 180Q600 150 650 150Q710 160 715 190L700 240L540 270L555 400L380 375L290 370Q250 390 240 450L230 560Q200 660 120 680Q50 690 20 640" fill="#fff"/>
<path d="M100 220Q140 330 60 520" stroke-width="8"/>
<ellipse cx="340" cy="300" rx="30" ry="40" transform="rotate(20 340 300)"/>
<ellipse cx="125" cy="555" rx="35" ry="40" transform="rotate(20 125 555)"/>
<ellipse cx="650" cy="178" rx="60" ry="25" transform="rotate(5 650 178)" stroke-width="9"/>
<path d="M700 360Q740 320 790 350Q850 420 840 490Q820 550 750 540Q680 520 680 460Q685 400 700 360Z" fill="#fff" stroke-width="12"/>
<path d="M705 375Q690 450 705 505" stroke-width="8"/>
<ellipse cx="765" cy="455" rx="24" ry="34" transform="rotate(20 765 455)"/>
<path d="M960 470L1130 530L1115 610L945 545Z" fill="#aaa" stroke-width="14"/>
<path d="M980 478L965 552M1005 486L990 562M1030 495L1015 572M1055 503L1040 582M1080 512L1065 592M1105 520L1090 600" stroke-width="13"/>
<path d="M1215 625L1335 665L1325 705L1210 655Z" fill="#fff" stroke-width="10"/>
<path d="M1240 625L1230 660M1265 633L1255 670M1290 642L1280 680M1315 650L1305 690" stroke-width="9"/>
<path d="M1330 660L1400 680L1400 720L1330 700Z" fill="#fff"/>
<ellipse cx="1445" cy="728" rx="68" ry="74" fill="#fff" stroke-width="12"/>
<path d="M1388 745L1500 712" stroke-width="9"/>
</g>
<!-- 19 screw -->
<g fill="none" stroke="#1a1a1a" stroke-width="1.4" stroke-linejoin="round">
<path d="M88 877L106 871Q110 874 108 880L90 887Z" fill="#bbb"/>
<path d="M94 875L95 884M98 874L99 883M102 872L103 882" stroke-width="1.1"/>
<ellipse cx="84" cy="882" rx="7.5" ry="7.5" fill="#fff" stroke-width="1.6"/>
<path d="M80 886L87 878" stroke-width="1.1"/>
</g>
<!-- 08_filter.svg -->
<defs>
<pattern id="stip" width="34" height="30" patternUnits="userSpaceOnUse">
<circle cx="5" cy="6" r="7" fill="#111"/><circle cx="22" cy="4" r="6" fill="#222"/><circle cx="14" cy="18" r="7.5" fill="#111"/><circle cx="29" cy="22" r="6" fill="#222"/><circle cx="4" cy="26" r="5" fill="#333"/>
</pattern>
<pattern id="stip2" width="40" height="36" patternUnits="userSpaceOnUse">
<circle cx="6" cy="8" r="6" fill="#222"/><circle cx="26" cy="20" r="6.5" fill="#111"/><circle cx="16" cy="30" r="4" fill="#333"/><circle cx="34" cy="4" r="3" fill="#333"/>
</pattern>
</defs>
<g transform="translate(610 870) scale(0.16247)" fill="none" stroke="#111" stroke-width="14" stroke-linejoin="round" stroke-linecap="round">
<!-- back housing -->
<path d="M80 1360L70 640Q40 600 45 420Q60 200 200 110Q300 70 420 110L600 180L760 280L450 1440L300 1510Q200 1500 100 1420Q80 1400 80 1360Z" fill="#fff" stroke-width="16"/>
<path d="M70 640Q60 620 70 600" stroke-width="10"/>
<path d="M215 1430L210 600Q220 340 380 210Q470 160 590 175Q700 200 760 280" stroke-width="14"/>
<path d="M250 1460L240 600Q260 380 400 250Q500 200 600 215Q700 240 730 290" stroke-width="10"/>
<path d="M290 1470L290 620Q300 420 420 300Q500 240 560 250" stroke-width="9"/>
<path d="M310 420L315 1210L370 1210L365 400Z" stroke-width="9"/>
<path d="M400 330L410 700M440 320L450 690M500 250L510 380M540 240L550 360M590 230L600 330M620 235L630 320" stroke-width="9"/>
<path d="M300 1350L440 1320M300 1400L420 1360M310 1460L430 1420" stroke-width="8"/>
<path d="M380 390Q375 420 385 440M375 520Q370 540 380 560M305 660Q295 690 310 710" stroke-width="7"/>
<!-- foam 1 -->
<path d="M400 1370L410 640Q430 420 560 330Q640 290 720 290Q860 300 930 390L700 1290Q560 1400 470 1420Q420 1415 400 1370Z" fill="#fff" stroke-width="13"/>
<path d="M400 1370L410 640Q430 420 560 330Q640 290 720 290L750 300Q620 320 540 420Q490 520 490 650L480 1405Q420 1410 400 1370Z" fill="url(#stip)" stroke-width="10"/>
<path d="M750 300Q860 310 930 390" stroke-width="13"/>
<path d="M640 780Q560 860 545 1000Q520 1150 560 1290Q650 1250 700 1180L720 760Q680 750 640 780Z" fill="url(#stip2)" stroke="none"/>
<path d="M660 830Q600 900 590 1020Q585 1120 610 1170Q670 1110 700 1040L712 820Q690 810 660 830Z" fill="url(#stip)" stroke="none"/>
<!-- foam 2 -->
<path d="M700 1530L710 800Q730 600 820 510Q920 420 1010 410Q1130 420 1200 500L1231 520L1231 1400L950 1440Q860 1560 790 1575Q720 1570 700 1530Z" fill="#fff" stroke-width="13"/>
<path d="M700 1530L710 800Q730 600 820 510Q920 420 1010 410L1040 420Q900 470 830 580Q790 680 790 800L780 1570Q720 1570 700 1530Z" fill="url(#stip)" stroke-width="10"/>
<path d="M1040 420Q1130 425 1200 500" stroke-width="13"/>
<path d="M940 840Q860 920 845 1080Q835 1220 870 1300Q950 1240 980 1150L990 830Q965 820 940 840Z" fill="url(#stip2)" stroke="none"/>
<path d="M950 920Q900 990 890 1080Q885 1150 900 1180Q950 1130 975 1060L985 900Q970 895 950 920Z" fill="url(#stip)" stroke="none"/>
<path d="M830 1250Q840 1350 920 1440L950 1440L960 1300Z" fill="url(#stip2)" stroke="none"/>
<path d="M1231 1390L960 1340Q860 1320 855 1270Q860 1225 905 1232Q935 1240 935 1270" stroke-width="30"/>
<path d="M1231 1390L960 1340Q860 1320 855 1270Q860 1225 905 1232Q935 1240 935 1270" stroke="#fff" stroke-width="10"/>
</g>
<g transform="translate(760 940) scale(0.16869)" fill="none" stroke="#111" stroke-width="14" stroke-linejoin="round" stroke-linecap="round">
<path d="M60 1440L70 400Q90 220 200 140Q270 100 340 110Q500 130 620 230Q720 320 720 450L730 1250Q720 1300 660 1330L300 1510Q200 1530 100 1500Q60 1480 60 1440Z" fill="#fff" stroke-width="17"/>
<path d="M340 115Q260 170 258 320Q262 430 295 490L290 1490" stroke-width="10"/>
<path d="M230 330Q200 420 150 480Q100 560 100 620L105 1340M130 540Q200 470 260 470" stroke-width="10"/>
<path d="M370 600Q385 570 400 600L402 1400Q385 1420 372 1400Z" stroke-width="10"/>
<path d="M495 640Q510 620 522 645L522 1330Q510 1345 497 1330Z" stroke-width="10"/>
<path d="M615 510Q630 490 648 515L652 1255Q635 1270 620 1250Z" stroke-width="10"/>
<path d="M440 800Q455 780 470 800L472 930L442 930Z" stroke-width="10"/>
<path d="M553 740Q567 720 580 745L582 870L555 870Z" stroke-width="10"/>
<path d="M445 465Q470 450 520 590L500 640L465 680Z" stroke-width="11"/>
<path d="M548 400Q580 390 640 500L620 560L575 620Z" stroke-width="11"/>
<circle cx="600" cy="520" r="22" stroke-width="9"/>
<path d="M0 880L40 925L380 965Q440 975 520 935L800 790Q850 760 840 700Q830 655 780 640L725 622" stroke-width="40"/>
<path d="M0 880L40 925L380 965Q440 975 520 935L800 790Q850 760 840 700Q830 655 780 640L725 622" stroke="#fff" stroke-width="13"/>
</g>
<!-- 09_bottom.svg -->
<g transform="translate(255 1035) scale(0.06873)" fill="none" stroke="#1a1a1a" stroke-width="22" stroke-linejoin="round" stroke-linecap="round">
<!-- 24 -->
<path d="M870 140L980 140L985 250L865 250Z" fill="#fff" stroke-width="24"/>
<path d="M900 150V240M950 150V240" stroke-width="14"/>
<ellipse cx="920" cy="300" rx="95" ry="68" fill="#fff" stroke-width="24"/>
<path d="M850 290Q920 250 990 290" stroke-width="16"/>
<!-- 22 -->
<path d="M605 430L625 420L630 560L660 570L660 720L670 760Q660 830 610 830Q560 820 565 760L570 720L570 570L600 560Z" fill="#fff" stroke-width="20"/>
<path d="M600 580V710M630 580V710" stroke-width="12" stroke="#666"/>
<path d="M580 740L650 740M600 480L630 490" stroke-width="16"/>
<!-- 23 -->
<path d="M110 980L420 1150L400 1190L90 1020Z" fill="#fff" stroke="#555" stroke-width="16"/>
<path d="M120 1010L400 1165" stroke="#999" stroke-width="10"/>
<!-- 25 -->
<path d="M530 1310Q540 1500 800 1540Q1100 1560 1300 1400Q1380 1330 1370 1100" fill="#fff" stroke-width="24"/>
<path d="M450 1200Q440 1130 560 1080L700 1000Q780 900 900 880L1060 880Q1140 900 1230 940Q1350 930 1370 1030L1380 1300Q1330 1420 1050 1450Q800 1450 700 1380L530 1310Q460 1280 450 1200Z" fill="#fff" stroke-width="24"/>
<path d="M700 1390Q820 1470 1050 1470Q1300 1450 1370 1330" stroke-width="14"/>
<path d="M780 890Q860 940 880 1030Q840 1100 860 1140Q950 1170 1060 1160Q1130 1210 1200 1210Q1270 1180 1290 1140M940 960Q1000 1040 1080 1030M1180 990Q1160 1060 1200 1100L1280 1140M1050 880Q1080 950 1130 1010Q1180 1000 1230 940" stroke-width="18"/>
<path d="M860 1190Q950 1220 1060 1210" stroke-width="12"/>
<path d="M560 1180L640 1060Q700 980 800 1040L720 1140Q640 1200 560 1180Z" fill="#888" stroke-width="22"/>
<path d="M540 1320L700 1390M680 1200L700 1390L800 1380L790 1200Z" stroke-width="16"/>
<circle cx="750" cy="1310" r="22" fill="#222" stroke="none"/>
</g>
<g transform="translate(255 1150) scale(0.125)" fill="none" stroke="#1a1a1a" stroke-width="13" stroke-linejoin="round" stroke-linecap="round">
<!-- 27 bowl -->
<path d="M95 610L270 420L300 400L580 370Q790 380 830 500Q840 600 790 650L790 780Q760 860 600 890L460 885L440 920L360 920L350 900L95 740Z" fill="#fff" stroke-width="15"/>
<path d="M95 610L350 740L370 730Q440 720 470 760Q520 720 600 690Q780 640 830 520" stroke-width="12"/>
<path d="M120 600L280 440M150 610L290 460M130 640L340 750M270 440L280 640M290 650Q380 600 560 605Q700 610 790 560" stroke-width="9"/>
<path d="M290 420Q600 410 770 470Q830 510 810 570M600 380Q780 400 815 480M585 395Q765 420 805 500M570 410Q750 440 795 520M560 425Q735 455 785 540" stroke-width="8"/>
<path d="M110 615L275 430M125 625L285 445M140 632L292 458" stroke-width="7"/>
<path d="M480 745Q600 690 780 640M470 730Q600 670 790 610" stroke-width="8"/>
<path d="M120 700L340 820M350 900L350 740M460 885L470 770" stroke-width="10"/>
<path d="M470 770L600 700Q700 660 790 650" stroke-width="9"/>
<ellipse cx="420" cy="770" rx="38" ry="22" stroke-width="10"/>
<path d="M120 640L150 600M145 655L175 615M170 665L200 625M195 680L225 640M220 690L250 650M245 705L275 665M270 715L300 675" stroke-width="7"/>
<!-- gasket -->
<path d="M115 320Q130 250 220 170Q330 60 520 50Q720 60 790 170Q800 250 700 300L430 430Q350 470 290 420L140 350Q110 340 115 320Z" fill="#fff" stroke-width="20"/>
<path d="M140 318Q160 255 235 185Q340 85 520 75Q700 85 765 175Q770 240 690 280" stroke-width="6"/>
<path d="M280 380L500 300Q540 280 600 320L430 410Q350 440 280 380Z" fill="#fff" stroke-width="10"/>
<ellipse cx="560" cy="320" rx="40" ry="20" stroke-width="9"/>
<path d="M300 385L520 310M320 400L540 320M340 415L560 335" stroke-width="7"/>
<!-- 28 nut -->
<ellipse cx="420" cy="1065" rx="52" ry="35" fill="#fff" stroke-width="15"/>
<ellipse cx="420" cy="1068" rx="28" ry="17" stroke-width="10"/>
<!-- 1 bolt -->
<path d="M395 1260Q420 1230 450 1260L450 1440L395 1440Z" fill="#fff" stroke-width="14"/>
<path d="M412 1270V1430" stroke-width="8"/>
<path d="M375 1450Q380 1430 420 1430Q470 1430 480 1460L475 1510Q430 1530 380 1510Z" fill="#fff" stroke-width="14"/>
<path d="M405 1485L430 1460L450 1485" stroke-width="8"/>
</g>

</svg>
<div id="big"><div id="bigt">20</div></div>
<div id="tip"><div id="tipl"><div id="tipi"><div style="position:absolute;left:15.5px;top:9px;width:3.5px;height:3.5px;background:#7d7d7d;border-radius:50%"></div><div style="position:absolute;left:15.5px;top:15px;width:3.5px;height:13px;background:#7d7d7d"></div></div></div><div id="tipt">365200045 | Spark plug cap</div></div>
</body></html>
